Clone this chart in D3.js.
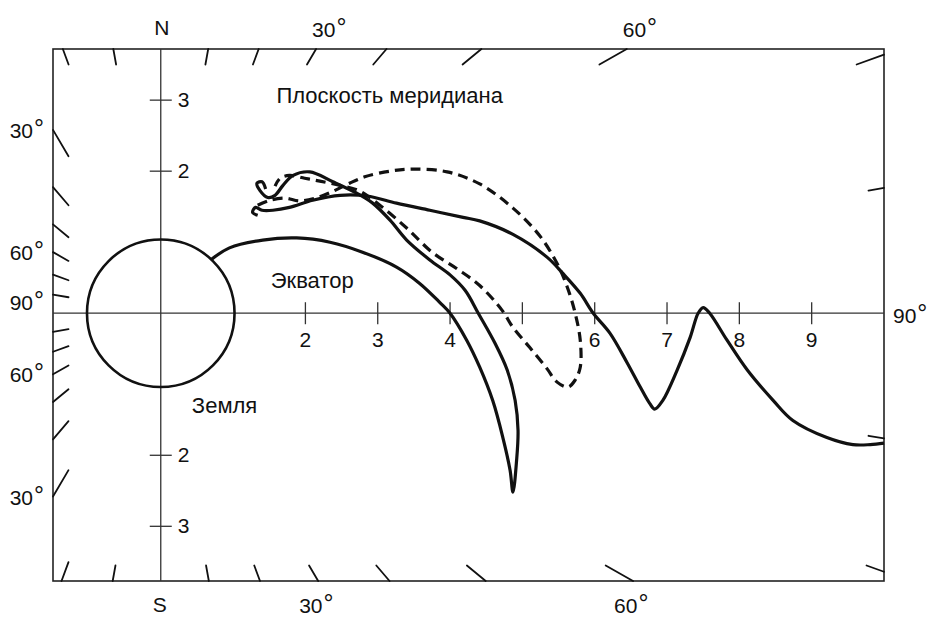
<!DOCTYPE html>
<html><head><meta charset="utf-8">
<script src="https://cdn.jsdelivr.net/npm/d3@7"></script>
<style>
body{margin:0;background:#fff}
svg{display:block}
text{font-family:"Liberation Sans",Arial,Helvetica,sans-serif;fill:#111}
</style>
</head><body>
<svg id="c" width="932" height="620"></svg>
<script>
// ---- data (distances in Earth radii, angles in degrees from the pole) ----
const xTicks = [2, 3, 4, 5, 6, 7, 8, 9];
const xTickLabels = ["2", "3", "4", "", "6", "7", "8", "9"];
const yTicks = [3, 2, -2, -3];
const yTickLabels = ["3", "2", "2", "3"];
const markAngles = [10, 20, 30, 40, 50, 60, 70, 80];
const angleLabels = [30, 60];
const equatorAngleLabel = 90;
const earthRadius = 1.02;

// solid trajectory leaving the Earth, crescent with cusp
const crescentTrack = [
  [0.69,0.75],[0.95,0.92],[1.41,1.03],[1.88,1.06],[2.34,1.00],[2.79,0.86],[3.26,0.65],
  [3.58,0.42],[3.86,0.15],[4.00,0.00],[4.23,-0.38],[4.41,-0.76],[4.59,-1.23],[4.73,-1.75],
  [4.83,-2.21],[4.87,-2.52],[4.92,-2.07],[4.94,-1.65],[4.90,-1.23],[4.79,-0.80],[4.62,-0.42],
  [4.39,0.00],[4.21,0.32],[4.00,0.54],[3.72,0.75],[3.40,1.03],[3.17,1.31],[2.93,1.55],
  [2.71,1.69],[2.38,1.85],[2.06,1.99],[1.83,1.94],[1.69,1.80],[1.58,1.66],[1.48,1.63],
  [1.37,1.73],[1.33,1.83],[1.40,1.85],[1.45,1.75]
];
// long solid trajectory reaching the right border
const longTrack = [
  [1.34,1.38],[1.27,1.42],[1.31,1.49],[1.40,1.45],[1.55,1.45],[1.78,1.49],[2.10,1.59],
  [2.48,1.66],[2.85,1.65],[3.26,1.55],[3.72,1.45],[4.18,1.35],[4.41,1.30],[4.87,1.11],
  [5.34,0.79],[5.56,0.56],[5.80,0.28],[5.98,0.00],[6.21,-0.28],[6.45,-0.70],[6.63,-1.04],
  [6.76,-1.27],[6.83,-1.35],[6.94,-1.23],[7.14,-0.80],[7.32,-0.34],[7.43,0.00],[7.50,0.08],
  [7.59,0.00],[7.83,-0.38],[8.11,-0.80],[8.47,-1.23],[8.74,-1.51],[9.21,-1.75],[9.57,-1.85],
  [9.81,-1.85],[10.0,-1.83]
];
// dashed trajectory
const dashedTrack = [
  [1.34,1.52],[1.51,1.59],[1.72,1.62],[1.92,1.58],[2.17,1.63],[2.41,1.73],[2.61,1.83],
  [2.82,1.92],[3.17,2.00],[3.49,2.03],[3.96,1.99],[4.41,1.82],[4.87,1.48],[5.24,1.09],
  [5.48,0.70],[5.62,0.37],[5.73,0.00],[5.80,-0.38],[5.80,-0.76],[5.73,-0.94],[5.63,-1.04],
  [5.48,-0.97],[5.34,-0.78],[5.10,-0.48],[4.87,-0.20],[4.72,0.04],[4.41,0.39],[4.09,0.63],
  [3.75,0.86],[3.40,1.20],[3.03,1.52],[2.75,1.72],[2.48,1.80],[2.20,1.86],[1.99,1.90],
  [1.78,1.94],[1.65,1.90],[1.58,1.79]
];

// ---- drawing ----
const svg = d3.select("#c");
const xs = d3.scaleLinear().domain([-1.49, 10]).range([53, 884]);
const ys = d3.scaleLinear().domain([-3.77, 3.72]).range([581, 49]);
const [L, R] = xs.range();
const [B, T] = ys.range();
const ox = xs(0), oy = ys(0);
const kx = xs(1) - xs(0), ky = ys(0) - ys(1);
const FS = 21, FC = 22;

// frame
svg.append("rect").attr("x", L).attr("y", T).attr("width", R - L).attr("height", B - T)
  .attr("fill", "none").attr("stroke", "#222").attr("stroke-width", 1.6);

// axes lines
svg.append("line").attr("x1", L).attr("x2", R).attr("y1", oy).attr("y2", oy)
  .attr("stroke", "#333").attr("stroke-width", 1.3);
svg.append("line").attr("x1", ox).attr("x2", ox).attr("y1", T).attr("y2", B)
  .attr("stroke", "#333").attr("stroke-width", 1.3);

function exitT(dx, dy, inset) {
  const l = L + inset, r = R - inset, t = T + inset, b = B - inset;
  let tx = Infinity, ty = Infinity;
  if (dx > 1e-9) tx = (r - ox) / dx; else if (dx < -1e-9) tx = (l - ox) / dx;
  if (dy > 1e-9) ty = (b - oy) / dy; else if (dy < -1e-9) ty = (t - oy) / dy;
  return Math.min(tx, ty);
}
function rayDir(angle, hemi, side) {
  const a = angle * Math.PI / 180;
  return [side * Math.sin(a) * kx, -hemi * Math.cos(a) * ky];
}

// border direction marks
const marks = [];
[1, -1].forEach(h => [1, -1].forEach(s => markAngles.forEach(a => marks.push({a, h, s}))));
const depth = 15.5;
svg.append("g").selectAll("line").data(marks).join("line")
  .each(function(d) {
    const [dx, dy] = rayDir(d.a, d.h, d.s);
    const t1 = exitT(dx, dy, 0), t0 = exitT(dx, dy, depth);
    d3.select(this).attr("x1", ox + dx * t0).attr("y1", oy + dy * t0)
      .attr("x2", ox + dx * t1).attr("y2", oy + dy * t1);
  })
  .attr("stroke", "#111").attr("stroke-width", 1.8).attr("stroke-linecap", "round");

// angle labels
function degLabel(sel, txt) {
  sel.append("tspan").text(txt);
  sel.append("tspan").text("°").attr("font-size", 25).attr("dx", 1).attr("dy", -1);
}
const angLab = [];
[1, -1].forEach(h => [1, -1].forEach(s => angleLabels.forEach(a => angLab.push({a, h, s}))));
angLab.forEach(d => {
  const [dx, dy] = rayDir(d.a, d.h, d.s);
  const t = exitT(dx, dy, 0);
  const px = ox + dx * t, py = oy + dy * t;
  let x, y, anchor;
  if (Math.abs(py - T) < 0.5) { x = px - 4; y = T - 12; anchor = "start"; }
  else if (Math.abs(py - B) < 0.5) { x = px - 19; y = B + 32; anchor = "start"; }
  else { x = L - 9; y = py + 8; anchor = "end"; }
  const tx = svg.append("text").attr("x", x).attr("y", y).attr("text-anchor", anchor)
    .attr("font-size", FS);
  degLabel(tx, String(d.a));
});
const t90l = svg.append("text").attr("x", L - 9).attr("y", oy - 3).attr("text-anchor", "end").attr("font-size", FS);
degLabel(t90l, String(equatorAngleLabel));
const t90r = svg.append("text").attr("x", R + 9).attr("y", oy + 10).attr("text-anchor", "start").attr("font-size", FS);
degLabel(t90r, String(equatorAngleLabel));

// N / S
svg.append("text").attr("x", ox + 1).attr("y", T - 14).attr("text-anchor", "middle").attr("font-size", FS).text("N");
svg.append("text").attr("x", ox - 1).attr("y", B + 31).attr("text-anchor", "middle").attr("font-size", FS).text("S");

// x ticks
const gx = svg.append("g");
gx.selectAll("line").data(xTicks).join("line")
  .attr("x1", d => xs(d)).attr("x2", d => xs(d)).attr("y1", oy - 11).attr("y2", oy + 11)
  .attr("stroke", "#333").attr("stroke-width", 1.3);
gx.selectAll("text").data(xTicks).join("text")
  .attr("x", d => xs(d)).attr("y", oy + 34).attr("text-anchor", "middle").attr("font-size", FS)
  .text((d, i) => xTickLabels[i]);

// y ticks
const gy = svg.append("g");
gy.selectAll("line").data(yTicks).join("line")
  .attr("x1", ox - 11).attr("x2", ox + 11).attr("y1", d => ys(d)).attr("y2", d => ys(d))
  .attr("stroke", "#333").attr("stroke-width", 1.3);
gy.selectAll("text").data(yTicks).join("text")
  .attr("x", ox + 17).attr("y", d => ys(d) + 7).attr("text-anchor", "start").attr("font-size", FS)
  .text((d, i) => yTickLabels[i]);

// Earth
svg.append("circle").attr("cx", ox).attr("cy", oy).attr("r", earthRadius * kx)
  .attr("fill", "none").attr("stroke", "#111").attr("stroke-width", 2.6);

// trajectories
const line = d3.line().x(d => xs(d[0])).y(d => ys(d[1])).curve(d3.curveCatmullRom.alpha(0.5));
svg.append("path").attr("d", line(crescentTrack)).attr("fill", "none")
  .attr("stroke", "#111").attr("stroke-width", 3.2).attr("stroke-linejoin", "round");
svg.append("path").attr("d", line(longTrack)).attr("fill", "none")
  .attr("stroke", "#111").attr("stroke-width", 3.2).attr("stroke-linejoin", "round");
svg.append("path").attr("d", line(dashedTrack)).attr("fill", "none")
  .attr("stroke", "#111").attr("stroke-width", 3.2).attr("stroke-dasharray", "10,6");

// captions
svg.append("text").attr("x", xs(1.60)).attr("y", ys(2.96)).attr("font-size", FC).text("Плоскость меридиана");
svg.append("text").attr("x", xs(1.52)).attr("y", ys(0.35)).attr("font-size", FC).text("Экватор");
svg.append("text").attr("x", xs(0.43)).attr("y", ys(-1.41)).attr("font-size", FC).text("Земля");
</script>
</body></html>
